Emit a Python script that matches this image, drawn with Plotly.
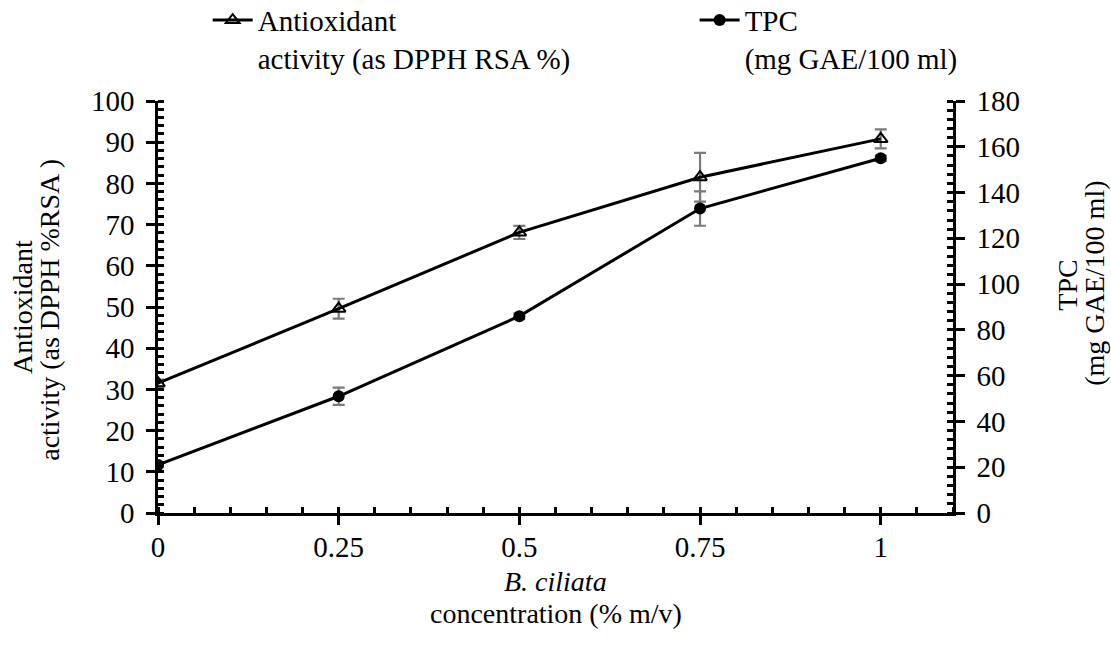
import plotly.graph_objects as go

conc = [0, 0.25, 0.5, 0.75, 1]
aa = [31.5, 49.6, 68.1, 81.5, 90.8]
aa_err = [0.9, 2.4, 1.6, 5.9, 2.3]
tpc = [21.0, 51.0, 86.0, 133.0, 155.0]
tpc_err = [1.0, 3.8, 1.2, 7.5, 1.2]

FONT = "'Liberation Serif', 'Times New Roman', Times, serif"
TICK_FS = 29
TITLE_FS = 28
LEG_FS = 29
GRAY = "#7a7a7a"

fig = go.Figure()
fig.add_trace(go.Scatter(
    x=conc, y=aa, mode="lines+markers",
    name="Antioxidant<br>activity (as DPPH RSA %)",
    line=dict(color="black", width=3),
    marker=dict(symbol="triangle-up-open", size=12, color="black", line=dict(width=2, color="black")),
    error_y=dict(type="data", array=aa_err, color=GRAY, thickness=2.2, width=6),
    yaxis="y", legend="legend",
))
fig.add_trace(go.Scatter(
    x=conc, y=tpc, mode="lines+markers",
    name="TPC<br>(mg GAE/100 ml)",
    line=dict(color="black", width=3),
    marker=dict(symbol="circle", size=12, color="black"),
    error_y=dict(type="data", array=tpc_err, color=GRAY, thickness=2.2, width=6),
    yaxis="y2", legend="legend2",
))
# helper traces for the inner half of crossing major ticks
fig.add_trace(go.Scatter(x=[None], y=[None], xaxis="x2", yaxis="y3", showlegend=False, hoverinfo="skip"))
fig.add_trace(go.Scatter(x=[None], y=[None], xaxis="x2", yaxis="y4", showlegend=False, hoverinfo="skip"))

tickfont = dict(family=FONT, size=TICK_FS, color="black")
titlefont = dict(family=FONT, size=TITLE_FS, color="black")
legfont = dict(family=FONT, size=LEG_FS, color="black")

annos = [
    dict(text="<i>B. ciliata</i>", x=0.5, y=-0.167, xanchor="center", yanchor="middle", textangle=0),
    dict(text="concentration (% m/v)", x=0.5, y=-0.243, xanchor="center", yanchor="middle", textangle=0),
    dict(text="Antioxidant", x=-0.171, y=0.5, xanchor="center", yanchor="middle", textangle=-90),
    dict(text="activity (as DPPH %RSA )", x=-0.136, y=0.493, xanchor="center", yanchor="middle", textangle=-90),
    dict(text="TPC", x=1.144, y=0.553, xanchor="center", yanchor="middle", textangle=-90),
    dict(text="(mg GAE/100 ml)", x=1.177, y=0.558, xanchor="center", yanchor="middle", textangle=-90),
]
for a in annos:
    a.update(xref="paper", yref="paper", showarrow=False, font=titlefont)

fig.update_layout(
    width=1111, height=646,
    margin=dict(l=158, r=158, t=101, b=133, autoexpand=False),
    paper_bgcolor="white", plot_bgcolor="white",
    font=dict(family=FONT, size=TICK_FS, color="black"),
    showlegend=True,
    annotations=annos,
    legend=dict(x=0.0625, y=1.258, xanchor="left", yanchor="top", valign="top",
                font=legfont, bgcolor="rgba(0,0,0,0)", itemwidth=40),
    legend2=dict(x=0.675, y=1.258, xanchor="left", yanchor="top", valign="top",
                 font=legfont, bgcolor="rgba(0,0,0,0)", itemwidth=40),
    xaxis=dict(
        range=[0, 1.1], tickmode="array", tickvals=[0, 0.25, 0.5, 0.75, 1],
        ticktext=["0", "0.25", "0.5", "0.75", "1"],
        showgrid=False, zeroline=False, showline=True, linecolor="black", linewidth=2.5,
        ticks="outside", ticklen=9, tickwidth=2.5, tickcolor="black", tickfont=tickfont,
        ticklabelstandoff=-3,
        minor=dict(tickmode="linear", tick0=0, dtick=0.05, ticks="inside", ticklen=6, tickwidth=2.5, tickcolor="black", showgrid=False),
    ),
    xaxis2=dict(
        range=[0, 1.1], overlaying="x", anchor="y", tickmode="array", tickvals=[0, 0.25, 0.5, 0.75, 1],
        showticklabels=False, ticks="inside", ticklen=6, tickwidth=2.5, tickcolor="black",
        showgrid=False, zeroline=False, showline=False, side="bottom",
    ),
    yaxis=dict(
        range=[0, 100], tickmode="linear", tick0=0, dtick=10,
        showgrid=False, zeroline=False, showline=True, linecolor="black", linewidth=2.5,
        ticks="outside", ticklen=9, tickwidth=2.5, tickcolor="black", tickfont=tickfont,
        ticklabelstandoff=6,
        minor=dict(tickmode="linear", tick0=0, dtick=2, ticks="inside", ticklen=6, tickwidth=2.5, tickcolor="black", showgrid=False),
    ),
    yaxis2=dict(
        range=[0, 180], tickmode="linear", tick0=0, dtick=20, overlaying="y", side="right", anchor="x",
        showgrid=False, zeroline=False, showline=True, linecolor="black", linewidth=2.5,
        ticks="outside", ticklen=9, tickwidth=2.5, tickcolor="black", tickfont=tickfont,
        ticklabelstandoff=6,
        minor=dict(tickmode="linear", tick0=0, dtick=4, ticks="inside", ticklen=6, tickwidth=2.5, tickcolor="black", showgrid=False),
    ),
    yaxis3=dict(
        range=[0, 100], tickmode="linear", tick0=0, dtick=10, overlaying="y", side="left", anchor="x2",
        showticklabels=False, ticks="inside", ticklen=6, tickwidth=2.5, tickcolor="black",
        showgrid=False, zeroline=False, showline=False,
    ),
    yaxis4=dict(
        range=[0, 180], tickmode="linear", tick0=0, dtick=20, overlaying="y", side="right", anchor="x2",
        showticklabels=False, ticks="inside", ticklen=6, tickwidth=2.5, tickcolor="black",
        showgrid=False, zeroline=False, showline=False,
    ),
)

fig.write_html("out.html")
